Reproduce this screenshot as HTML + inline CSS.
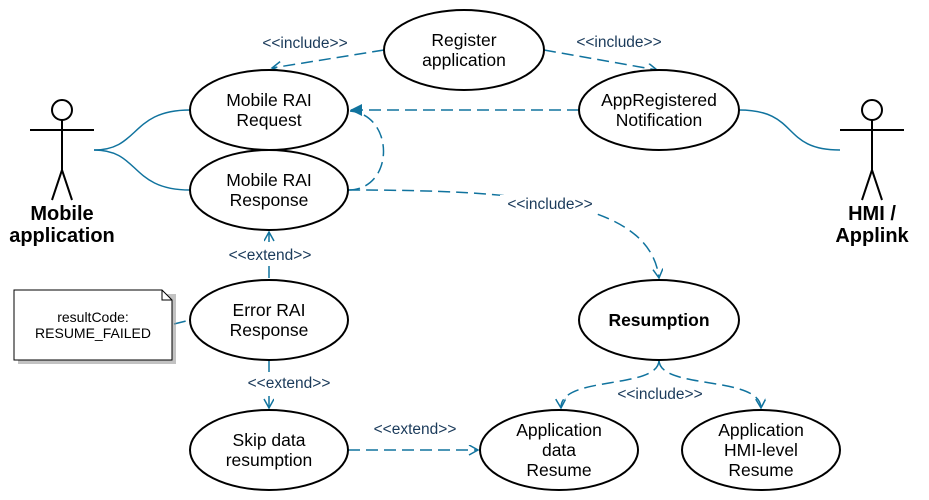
<!DOCTYPE html><html><head><style>body{margin:0;background:#fff}svg{display:block}text{font-family:"Liberation Sans",sans-serif}</style></head><body>
<svg width="929" height="500" viewBox="0 0 929 500">
<defs>
<marker id="o" markerWidth="12" markerHeight="12" refX="10" refY="5" orient="auto" markerUnits="userSpaceOnUse"><path d="M1,0 L10,5 L1,10" fill="none" stroke="#10739e" stroke-width="1.5"/></marker>
<marker id="f" markerWidth="14" markerHeight="14" refX="12" refY="6" orient="auto" markerUnits="userSpaceOnUse"><path d="M0,0 L12,6 L0,12 Z" fill="#10739e"/></marker>
</defs>
<g fill="none" stroke="#10739e" stroke-width="1.5">
<path d="M94,150 C140,150 130,110 190,110"/>
<path d="M94,150 C140,150 130,190 190,190"/>
<path d="M739,110 C800,110 780,150 840,150"/>
<g stroke-dasharray="12,6">
<path d="M384,50 L272,68" marker-end="url(#o)"/>
<path d="M544,50 L657,70" marker-end="url(#o)"/>
<path d="M579,110 L350,110" marker-end="url(#f)"/>
<path d="M348,190 C395,190 395,115 350,111"/>
<path d="M348,190 C520,190 650,200 659,278" marker-end="url(#o)"/>
<path d="M269,278 L269,232" marker-end="url(#o)"/>
<path d="M269,360 L269,408" marker-end="url(#o)"/>
<path d="M348,450 L478,450" marker-end="url(#o)"/>
<path d="M659,360 C659,390 560,375 561,408" marker-end="url(#o)"/>
<path d="M659,360 C659,390 760,375 761,408" marker-end="url(#o)"/>
<path d="M174,324 L190,320"/>
</g>
</g>
<g fill="#fff" stroke="#000" stroke-width="2">
<ellipse cx="464" cy="50" rx="80" ry="40"/>
<ellipse cx="269" cy="110" rx="79" ry="40"/>
<ellipse cx="269" cy="190" rx="79" ry="40"/>
<ellipse cx="659" cy="110" rx="80" ry="40"/>
<ellipse cx="269" cy="320" rx="79" ry="40"/>
<ellipse cx="269" cy="450" rx="79" ry="40"/>
<ellipse cx="659" cy="320" rx="80" ry="40"/>
<ellipse cx="559" cy="450" rx="79" ry="40"/>
<ellipse cx="761" cy="450" rx="79" ry="40"/>
</g>
<path d="M18,294 H176 V364 H18 Z" fill="#999" opacity="0.6"/>
<path d="M14,290 H162 L172,300 V360 H14 Z" fill="#fff" stroke="#000"/>
<path d="M162,290 V300 H172" fill="none" stroke="#000"/>
<g fill="none" stroke="#000" stroke-width="2">
<circle cx="62" cy="110" r="10"/><path d="M62,120 V170 M30,130 H94 M62,170 L52,200 M62,170 L72,200"/>
<circle cx="872" cy="110" r="10"/><path d="M872,120 V170 M840,130 H904 M872,170 L862,200 M872,170 L882,200"/>
</g>
<g font-size="17.5" text-anchor="middle" fill="#000">
<text x="464" y="46">Register</text><text x="464" y="66">application</text>
<text x="269" y="106">Mobile RAI</text><text x="269" y="126">Request</text>
<text x="269" y="186">Mobile RAI</text><text x="269" y="206">Response</text>
<text x="659" y="106">AppRegistered</text><text x="659" y="126">Notification</text>
<text x="269" y="316">Error RAI</text><text x="269" y="336">Response</text>
<text x="269" y="446">Skip data</text><text x="269" y="466">resumption</text>
<text x="659" y="326" font-weight="bold">Resumption</text>
<text x="559" y="436">Application</text><text x="559" y="456">data</text><text x="559" y="476">Resume</text>
<text x="761" y="436">Application</text><text x="761" y="456">HMI-level</text><text x="761" y="476">Resume</text>
</g>
<g font-size="20" font-weight="bold" text-anchor="middle">
<text x="62" y="220">Mobile</text><text x="62" y="242">application</text>
<text x="872" y="220">HMI /</text><text x="872" y="242">Applink</text>
</g>
<g font-size="14" text-anchor="middle" fill="#000">
<text x="93" y="322">resultCode:</text><text x="93" y="338">RESUME_FAILED</text>
</g>
<g font-size="15.5" text-anchor="middle" fill="#1a3a5a">
<rect x="222" y="246" width="96" height="18" fill="#fff"/>
<rect x="240" y="374" width="96" height="18" fill="#fff"/>
<rect x="610" y="385" width="100" height="18" fill="#fff"/>
<rect x="500" y="195" width="100" height="18" fill="#fff"/>
<text x="305" y="48">&lt;&lt;include&gt;&gt;</text>
<text x="619" y="47">&lt;&lt;include&gt;&gt;</text>
<text x="550" y="209">&lt;&lt;include&gt;&gt;</text>
<text x="270" y="260">&lt;&lt;extend&gt;&gt;</text>
<text x="289" y="388">&lt;&lt;extend&gt;&gt;</text>
<text x="415" y="434">&lt;&lt;extend&gt;&gt;</text>
<text x="660" y="399">&lt;&lt;include&gt;&gt;</text>
</g>
</svg>
</body></html>
